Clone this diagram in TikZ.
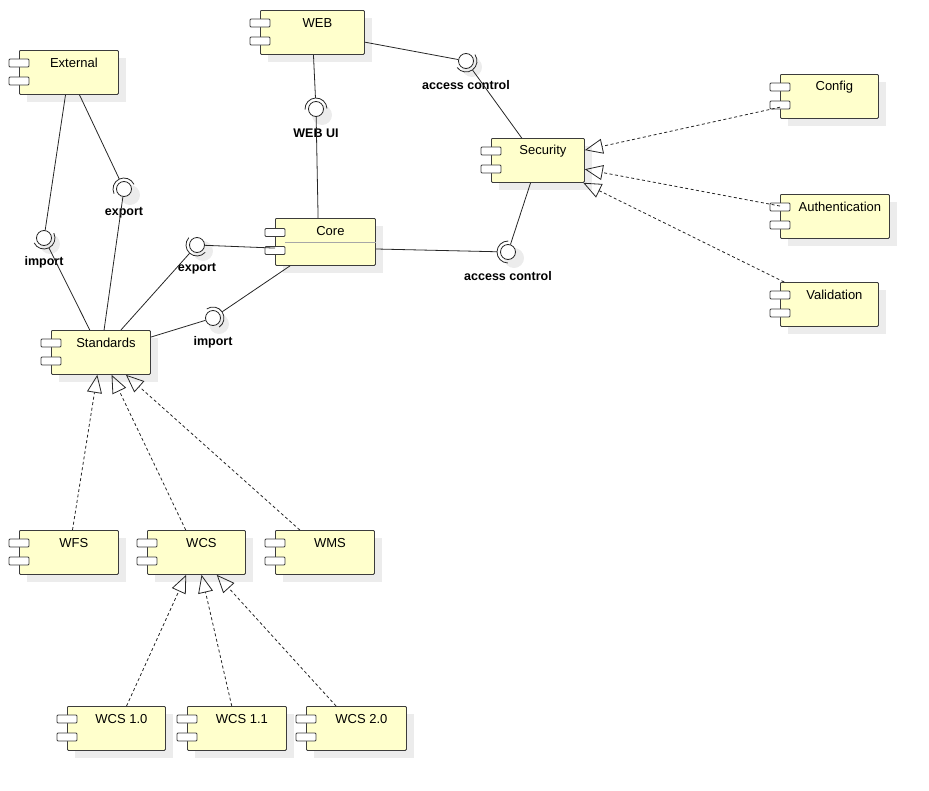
\documentclass[tikz,border=0pt]{standalone}
\usepackage{fontspec}
\setmainfont{Liberation Sans}
\usetikzlibrary{arrows.meta, calc, positioning}
\definecolor{CompFill}{RGB}{255,255,204}
\definecolor{CompLine}{RGB}{60,60,60}
\definecolor{ShadowGray}{RGB}{236,236,236}

\tikzset{
  comp/.style={draw=CompLine, fill=CompFill, rounded corners=1pt, inner sep=0pt,
    anchor=north west, line width=0.8pt},
  comptab/.style={draw=CompLine, fill=white, rounded corners=1pt, line width=0.8pt},
  compname/.style={font=\fontsize{13}{15}\selectfont},
  ball/.style={circle, draw=black!85, fill=white, minimum size=15pt, inner sep=0pt,
    line width=0.8pt},
  sock/.style={circle, minimum size=22pt, inner sep=0pt},
  iflabel/.style={font=\bfseries\fontsize{12.5}{15}\selectfont},
  conn/.style={line width=0.8pt, draw=black!85},
  realize/.style={conn, dash pattern=on 3pt off 2.5pt,
    -{Triangle[open, length=18pt, width=15pt]}},
}

\begin{document}
\begin{tikzpicture}[x=1pt, y=-1pt]
  \useasboundingbox (0,0) rectangle (929,790);

  % components
  \foreach \n/\cx/\cy/\w/\h/\t in
    {External/19/50/99/44/External, WEB/260/10/104/44/WEB,
     Security/491/138/93/44/Security, Config/780/74/98/44/Config,
     Auth/780/194/109/44/Authentication, Valid/780/282/98/44/Validation,
     Core/275/218/100/47/Core, Standards/51/330/99/44/Standards,
     WFS/19/530/99/44/WFS, WCS/147/530/98/44/WCS, WMS/275/530/99/44/WMS,
     wcsA/67/706/98/44/WCS 1.0, wcsB/187/706/99/44/WCS 1.1,
     wcsC/306/706/100/44/WCS 2.0}
  {
    \fill[ShadowGray] (\cx+8,\cy+8) rectangle ++(\w,\h);
    \node[comp, minimum width=\w pt, minimum height=\h pt] (\n) at (\cx,\cy) {};
    \draw[comptab] (\cx-10,\cy+\h/2-13) rectangle ++(20,8);
    \draw[comptab] (\cx-10,\cy+\h/2+5) rectangle ++(20,8);
    \node[compname] (\n-name) at ($(\n.north)+(5,13)$) {\t};
  }
  \draw[CompLine!45, line width=0.8pt] ($(Core.north west)+(10,24)$) -- ($(Core.north east)+(0,24)$);

  % interfaces
  \foreach \i/\cx/\cy/\t in
    {imp1/44/238/import, exp1/124/189/export, exp2/197/245/export,
     imp2/213/318/import, webui/316/109/WEB UI, acc1/466/61/access control,
     acc2/508/252/access control}
  {
    \fill[ShadowGray] (\cx+6,\cy+6) circle[radius=10pt];
    \node[ball] (\i) at (\cx,\cy) {};
    \node[sock] (\i-sock) at (\cx,\cy) {};
    \node[iflabel] (\i-label) at (\cx,\cy+24) {\t};
  }

  % sockets face the requiring component
  \foreach \i/\s in
    {imp1/Standards, exp1/External, exp2/Standards, imp2/Core,
     webui/WEB, acc1/Security, acc2/Core.352}
  {
    \draw[conn] let \p1=($(\s)-(\i)$), \n1={atan2(\y1,\x1)} in
      ($(\i)+(\n1-90:11pt)$) arc[start angle=\n1-90, end angle=\n1+90, radius=11pt];
    \draw[conn] (\s) -- (\i-sock);
  }

  % providing side
  \foreach \s/\i in
    {External/imp1, Standards/exp1, Core.187/exp2, Standards/imp2,
     Core.107/webui, WEB/acc1, Security/acc2}
    \draw[conn] (\s) -- (\i);

  % realizations
  \foreach \c/\p in
    {Config/Security, Auth/Security, Valid/Security,
     WFS/Standards, WCS/Standards, WMS/Standards,
     wcsA/WCS, wcsB/WCS, wcsC/WCS}
    \draw[realize] (\c) -- (\p);
\end{tikzpicture}
\end{document}
